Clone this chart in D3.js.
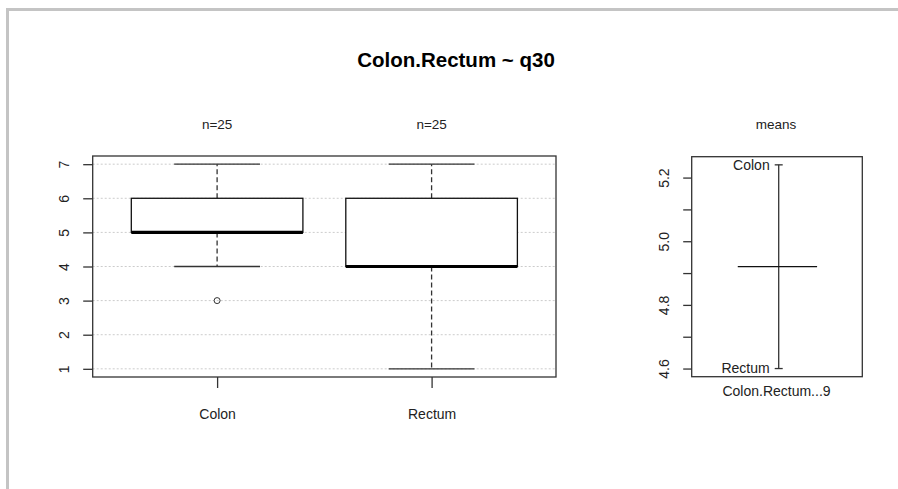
<!DOCTYPE html>
<html><head><meta charset="utf-8">
<script src="https://cdn.jsdelivr.net/npm/d3@7"></script>
<style>
html,body{margin:0;padding:0;background:#fff;}
svg{display:block;}
text{font-family:"Liberation Sans",Arial,sans-serif;fill:#222;}
</style></head>
<body>
<script>
// ---- data ----
const categories = ["Colon", "Rectum"];
const nCounts = [25, 25];
const whiskerLow = [4, 1];
const q1 = [5, 4];
const medians = [5, 4];
const q3 = [6, 6];
const whiskerHigh = [7, 7];
const outliers = [[3], []];
const yTicksLeft = [1, 2, 3, 4, 5, 6, 7];
const groupMeans = [5.24, 4.60];
const overallMean = 4.92;
const yTicksRight = [4.6, 4.7, 4.8, 4.9, 5.0, 5.1, 5.2];
const yTickLabelsRight = ["4.6", "", "4.8", "", "5.0", "", "5.2"];
const titleText = "Colon.Rectum ~ q30";
const meansXLabel = "Colon.Rectum...9";

const W = 898, H = 489;
const svg = d3.select("body").append("svg").attr("width", W).attr("height", H);

// screenshot frame
svg.append("line").attr("x1", 6).attr("x2", W).attr("y1", 9.5).attr("y2", 9.5).attr("stroke", "#c4c4c4").attr("stroke-width", 3);
svg.append("line").attr("x1", 7.5).attr("x2", 7.5).attr("y1", 8).attr("y2", H).attr("stroke", "#c4c4c4").attr("stroke-width", 3);

const axisCol = "#333";
const font = "Liberation Sans, Arial, sans-serif";

// title
svg.append("text").attr("x", 456).attr("y", 67).attr("text-anchor", "middle")
  .style("font-size", "20.5px").style("font-weight", "bold").style("fill", "#000").text(titleText);

// ---- left panel ----
const L = {left: 92.7, right: 556, top: 156, bottom: 377};
const x = d3.scaleLinear().domain([0.42, 2.58]).range([L.left, L.right]);
const y = d3.scaleLinear().domain([0.76, 7.24]).range([L.bottom, L.top]);

const gL = svg.append("g");
// grid
gL.selectAll("line.grid").data(yTicksLeft).join("line")
  .attr("x1", L.left).attr("x2", L.right)
  .attr("y1", d => y(d)).attr("y2", d => y(d))
  .attr("stroke", "#cccccc").attr("stroke-width", 1).attr("stroke-dasharray", "2,2");

const boxW = 0.8, capW = 0.4;
categories.forEach((c, i) => {
  const cx = x(i + 1);
  const g = gL.append("g");
  // whiskers dashed
  g.append("line").attr("x1", cx).attr("x2", cx).attr("y1", y(q3[i])).attr("y2", y(whiskerHigh[i]))
    .attr("stroke", axisCol).attr("stroke-width", 1.3).attr("stroke-dasharray", "5,3");
  g.append("line").attr("x1", cx).attr("x2", cx).attr("y1", y(q1[i])).attr("y2", y(whiskerLow[i]))
    .attr("stroke", axisCol).attr("stroke-width", 1.3).attr("stroke-dasharray", "5,3");
  // caps
  [whiskerHigh[i], whiskerLow[i]].forEach(v => {
    g.append("line").attr("x1", x(i + 1 - capW / 2)).attr("x2", x(i + 1 + capW / 2))
      .attr("y1", y(v)).attr("y2", y(v)).attr("stroke", axisCol).attr("stroke-width", 1.3);
  });
  // box
  g.append("rect").attr("x", x(i + 1 - boxW / 2)).attr("width", x(i + 1 + boxW / 2) - x(i + 1 - boxW / 2))
    .attr("y", y(q3[i])).attr("height", y(q1[i]) - y(q3[i]))
    .attr("fill", "#fff").attr("stroke", "#111").attr("stroke-width", 1.3);
  // median
  g.append("line").attr("x1", x(i + 1 - boxW / 2)).attr("x2", x(i + 1 + boxW / 2))
    .attr("y1", y(medians[i])).attr("y2", y(medians[i])).attr("stroke", "#000").attr("stroke-width", 3.2);
  // outliers
  g.selectAll("circle").data(outliers[i]).join("circle")
    .attr("cx", cx).attr("cy", d => y(d)).attr("r", 3)
    .attr("fill", "none").attr("stroke", axisCol).attr("stroke-width", 1);
  // n label
  svg.append("text").attr("x", cx).attr("y", 129).attr("text-anchor", "middle")
    .style("font-size", "13.5px").text("n=" + nCounts[i]);
});
// frame
gL.append("rect").attr("x", L.left).attr("y", L.top).attr("width", L.right - L.left).attr("height", L.bottom - L.top)
  .attr("fill", "none").attr("stroke", axisCol).attr("stroke-width", 1.3);

// left y axis
const yAxisL = d3.axisLeft(y).tickValues(yTicksLeft).tickSize(9.5).tickFormat(d3.format("d"));
const gyL = svg.append("g").attr("transform", `translate(${L.left},0)`).call(yAxisL);
gyL.select(".domain").remove();
gyL.selectAll(".tick line").attr("stroke", axisCol).attr("stroke-width", 1.3);
gyL.selectAll(".tick text").attr("x", 0).attr("text-anchor", "middle")
  .attr("transform", "translate(-29,0) rotate(-90)").attr("dy", "0.35em")
  .style("font-size", "14px").style("font-family", font).style("fill", "#222");

// left x axis
const xAxisL = d3.axisBottom(x).tickValues([1, 2]).tickSize(11).tickFormat((d) => categories[d - 1]);
const gxL = svg.append("g").attr("transform", `translate(0,${L.bottom})`).call(xAxisL);
gxL.select(".domain").remove();
gxL.selectAll(".tick line").attr("stroke", axisCol).attr("stroke-width", 1.3);
gxL.selectAll(".tick text").attr("y", 42).attr("dy", 0)
  .style("font-size", "14px").style("font-family", font).style("fill", "#222");

// ---- right panel ----
const R = {left: 691.7, right: 862.3, top: 156.7, bottom: 376.7};
const yR = d3.scaleLinear().domain([4.5744, 5.2656]).range([R.bottom, R.top]);
const xR = d3.scaleLinear().domain([0, 1]).range([R.left, R.right]);
const gR = svg.append("g");
gR.append("rect").attr("x", R.left).attr("y", R.top).attr("width", R.right - R.left).attr("height", R.bottom - R.top)
  .attr("fill", "none").attr("stroke", axisCol).attr("stroke-width", 1.3);

const yAxisR = d3.axisLeft(yR).tickValues(yTicksRight).tickSize(8.5)
  .tickFormat((d, i) => yTickLabelsRight[i]);
const gyR = svg.append("g").attr("transform", `translate(${R.left},0)`).call(yAxisR);
gyR.select(".domain").remove();
gyR.selectAll(".tick line").attr("stroke", axisCol).attr("stroke-width", 1.3);
gyR.selectAll(".tick text").attr("x", 0).attr("text-anchor", "middle")
  .attr("transform", "translate(-28,0) rotate(-90)").attr("dy", "0.35em")
  .style("font-size", "14px").style("font-family", font).style("fill", "#222");

const mx = xR(0.51);
// vertical range line
gR.append("line").attr("x1", mx).attr("x2", mx).attr("y1", yR(d3.max(groupMeans))).attr("y2", yR(d3.min(groupMeans)))
  .attr("stroke", axisCol).attr("stroke-width", 1.3);
groupMeans.forEach((m, i) => {
  gR.append("line").attr("x1", mx - 4).attr("x2", mx + 4).attr("y1", yR(m)).attr("y2", yR(m))
    .attr("stroke", axisCol).attr("stroke-width", 1.3);
  gR.append("text").attr("x", mx - 9).attr("y", yR(m)).attr("dy", "0.35em").attr("text-anchor", "end")
    .style("font-size", "14px").text(categories[i]);
});
// overall mean
gR.append("line").attr("x1", xR(0.27)).attr("x2", xR(0.735)).attr("y1", yR(overallMean)).attr("y2", yR(overallMean))
  .attr("stroke", "#111").attr("stroke-width", 1.3);

svg.append("text").attr("x", 776).attr("y", 129).attr("text-anchor", "middle").style("font-size", "13.5px").text("means");
svg.append("text").attr("x", 776.5).attr("y", 396).attr("text-anchor", "middle").style("font-size", "14px").text(meansXLabel);
</script>
</body></html>
